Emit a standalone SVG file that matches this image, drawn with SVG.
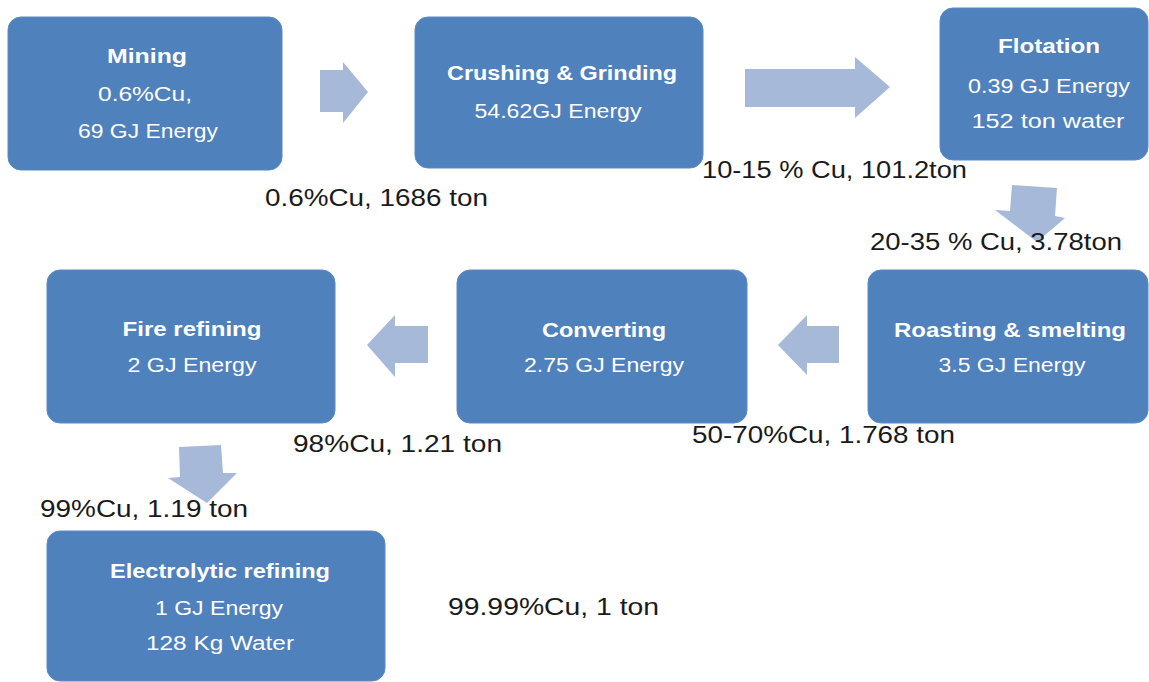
<svg xmlns="http://www.w3.org/2000/svg" width="1149" height="682" viewBox="0 0 1149 682">
<style>
.box{fill:#4F81BD;stroke:#5A8AC4;stroke-width:1}
.t{font-family:"Liberation Sans",Arial,sans-serif;font-size:20px;fill:#FFFFFF;text-anchor:middle}
.b{font-weight:bold}
.lbl{font-family:"Liberation Sans",Arial,sans-serif;font-size:23px;fill:#1A1A1A}
.arr{fill:#A7B9D9}
</style>
<rect width="1149" height="682" fill="#FFFFFF"/>
<g id="connectors">
<polygon class="arr" points="320,70 343,70 343,62 368,92 343,123 343,112 320,112"/>
<polygon class="arr" points="745,69 855,69 855,57 890,87 855,118 855,107 745,107"/>
<polygon class="arr" points="1012,185 1057,188 1055,216 1065,218 1037,242 995,210 1010,211"/>
<polygon class="arr" points="839,326 807,326 807,315 778,345 807,375 807,363 839,363"/>
<polygon class="arr" points="428,326 395,326 395,315 367,345 395,377 395,363 428,363"/>
<polygon class="arr" points="179,447 221,445 223,473 237,473 207,503 168,478 180,477"/>
</g>
<g id="mining">
<rect class="box" x="8" y="17" width="274" height="153" rx="13"/>
<text class="t b" x="147" y="63" textLength="80" lengthAdjust="spacingAndGlyphs">Mining</text>
<text class="t" x="145" y="101" textLength="94" lengthAdjust="spacingAndGlyphs">0.6%Cu,</text>
<text class="t" x="148" y="138" textLength="140" lengthAdjust="spacingAndGlyphs">69 GJ Energy</text>
</g>
<g id="crushing">
<rect class="box" x="415" y="17" width="288" height="151" rx="13"/>
<text class="t b" x="562" y="80" textLength="230" lengthAdjust="spacingAndGlyphs">Crushing &amp; Grinding</text>
<text class="t" x="558" y="118" textLength="167" lengthAdjust="spacingAndGlyphs">54.62GJ Energy</text>
</g>
<g id="flotation">
<rect class="box" x="940" y="8" width="208" height="152" rx="13"/>
<text class="t b" x="1049" y="53" textLength="102" lengthAdjust="spacingAndGlyphs">Flotation</text>
<text class="t" x="1049" y="93" textLength="162" lengthAdjust="spacingAndGlyphs">0.39 GJ Energy</text>
<text class="t" x="1048" y="128" textLength="153" lengthAdjust="spacingAndGlyphs">152 ton water</text>
</g>
<g id="roasting">
<rect class="box" x="868" y="270" width="280" height="153" rx="13"/>
<text class="t b" x="1010" y="337" textLength="232" lengthAdjust="spacingAndGlyphs">Roasting &amp; smelting</text>
<text class="t" x="1012" y="372" textLength="147" lengthAdjust="spacingAndGlyphs">3.5 GJ Energy</text>
</g>
<g id="converting">
<rect class="box" x="457" y="270" width="290" height="153" rx="13"/>
<text class="t b" x="604" y="337" textLength="124" lengthAdjust="spacingAndGlyphs">Converting</text>
<text class="t" x="604" y="372" textLength="160" lengthAdjust="spacingAndGlyphs">2.75 GJ Energy</text>
</g>
<g id="fire-refining">
<rect class="box" x="47" y="270" width="288" height="153" rx="13"/>
<text class="t b" x="192" y="336" textLength="139" lengthAdjust="spacingAndGlyphs">Fire refining</text>
<text class="t" x="192" y="372" textLength="129" lengthAdjust="spacingAndGlyphs">2 GJ Energy</text>
</g>
<g id="electrolytic">
<rect class="box" x="47" y="531" width="338" height="150" rx="13"/>
<text class="t b" x="220" y="578" textLength="220" lengthAdjust="spacingAndGlyphs">Electrolytic refining</text>
<text class="t" x="219" y="615" textLength="128" lengthAdjust="spacingAndGlyphs">1 GJ Energy</text>
<text class="t" x="220" y="650" textLength="148" lengthAdjust="spacingAndGlyphs">128 Kg Water</text>
</g>
<g id="labels">
<text class="lbl" x="265" y="206" textLength="223" lengthAdjust="spacingAndGlyphs">0.6%Cu, 1686 ton</text>
<text class="lbl" x="702" y="178" textLength="265" lengthAdjust="spacingAndGlyphs">10-15 % Cu, 101.2ton</text>
<text class="lbl" x="870" y="250" textLength="252" lengthAdjust="spacingAndGlyphs">20-35 % Cu, 3.78ton</text>
<text class="lbl" x="692" y="443" textLength="263" lengthAdjust="spacingAndGlyphs">50-70%Cu, 1.768 ton</text>
<text class="lbl" x="293" y="452" textLength="209" lengthAdjust="spacingAndGlyphs">98%Cu, 1.21 ton</text>
<text class="lbl" x="40" y="517" textLength="208" lengthAdjust="spacingAndGlyphs">99%Cu, 1.19 ton</text>
<text class="lbl" x="448" y="615" textLength="211" lengthAdjust="spacingAndGlyphs">99.99%Cu, 1 ton</text>
</g>
</svg>
